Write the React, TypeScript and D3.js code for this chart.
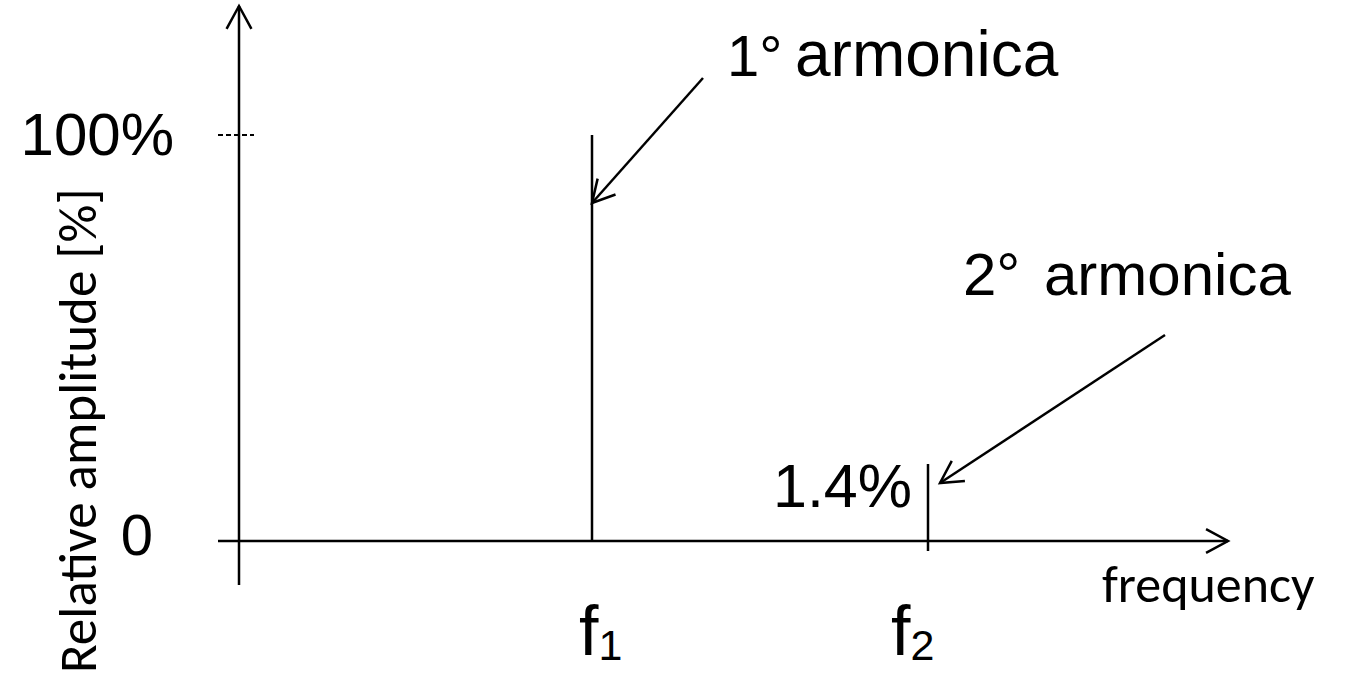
import React from "react";
import * as d3 from "d3";

// ---- data ----
const harmonicOrders = [1, 2];
const harmonicSubs = ["1", "2"];
const amplitudes = [100, 1.4];
const amplitudeLabels = ["", "1.4%"];
const annotationOrdinals = ["1°", "2°"];
const annotationWord = "armonica";
const yTicks = [0, 100];
const yTickLabels = ["0", "100%"];
const xAxisTitle = "frequency";
const yAxisTitle = "Relative amplitude [%]";

const W = 1350;
const H = 677;
const ARIAL = "'Liberation Sans', Arial, sans-serif";
const CAL = "Carlito, Calibri, Lato, 'Open Sans', sans-serif";

// frame
const axisX = 239;
const axisY0 = 541;

function arrowHead(tx: number, ty: number, fx: number, fy: number, len: number, ang: number) {
  const dx = fx - tx, dy = fy - ty;
  const l = Math.hypot(dx, dy);
  const ux = dx / l, uy = dy / l;
  const rot = (a: number) => [ux * Math.cos(a) - uy * Math.sin(a), ux * Math.sin(a) + uy * Math.cos(a)];
  const [ax, ay] = rot(ang);
  const [bx, by] = rot(-ang);
  return `M${tx + ax * len},${ty + ay * len}L${tx},${ty}L${tx + bx * len},${ty + by * len}`;
}

export default function App() {
  const x = d3.scaleLinear().domain([1, 2]).range([592, 928]);
  const y = d3.scaleSymlog().domain([0, 100]).range([axisY0, 135]);

  // annotation layout
  const annStart = [
    [703, 78],
    [1165, 335],
  ];
  const annTip = [
    [x(1), 203],
    [x(2) + 12, 483],
  ];
  const annLayout = [
    { ox: 727, ofs: 58, wx: 795, wfs: 64, by: 76 },
    { ox: 963, ofs: 60, wx: 1044, wfs: 60, by: 295 },
  ];
  const fLabelOffset = [-13, -37];

  const stroke = "#000";
  const sw = 2.5;

  return (
    <svg
      width={W}
      height={H}
      style={{ position: "absolute", left: 0, top: 0, background: "#fff" }}
      viewBox={`0 0 ${W} ${H}`}
    >
      {/* y axis */}
      <line x1={axisX} y1={585} x2={axisX} y2={6} stroke={stroke} strokeWidth={sw} />
      <path d={arrowHead(axisX, 6, axisX, 100, 26, Math.PI / 6.3)} fill="none" stroke={stroke} strokeWidth={sw} />
      {/* x axis */}
      <line x1={218} y1={axisY0} x2={1228} y2={axisY0} stroke={stroke} strokeWidth={sw} />
      <path d={arrowHead(1228, axisY0, 1100, axisY0, 25, Math.PI / 6.3)} fill="none" stroke={stroke} strokeWidth={sw} />

      {/* y ticks */}
      {yTicks.map((t, i) => (
        <g key={"yt" + i}>
          {t > 0 && (
            <line
              x1={218}
              x2={254}
              y1={y(t)}
              y2={y(t)}
              stroke={stroke}
              strokeWidth={2}
              strokeDasharray="5 3"
            />
          )}
          <text
            x={t > 0 ? 174 : 153}
            y={y(t) + (t > 0 ? 20 : 14)}
            textAnchor="end"
            fontFamily={ARIAL}
            fontSize={t > 0 ? 60 : 58}
            fill="#000"
          >
            {yTickLabels[i]}
          </text>
        </g>
      ))}

      {/* spikes */}
      {harmonicOrders.map((h, i) => (
        <g key={"h" + i}>
          <line
            x1={x(h)}
            x2={x(h)}
            y1={y(amplitudes[i])}
            y2={i === 0 ? axisY0 : axisY0 + 10}
            stroke={stroke}
            strokeWidth={sw}
          />
          {amplitudeLabels[i] && (
            <text
              x={x(h) - 16}
              y={507}
              textAnchor="end"
              fontFamily={ARIAL}
              fontSize={61}
              fill="#000"
            >
              {amplitudeLabels[i]}
            </text>
          )}
          <text x={x(h) + fLabelOffset[i]} y={655} fontFamily={ARIAL} fontSize={70} fill="#000">
            f
            <tspan fontSize={43} dy={5}>
              {harmonicSubs[i]}
            </tspan>
          </text>
          {/* annotation */}
          <line
            x1={annStart[i][0]}
            y1={annStart[i][1]}
            x2={annTip[i][0]}
            y2={annTip[i][1]}
            stroke={stroke}
            strokeWidth={sw}
          />
          <path
            d={arrowHead(annTip[i][0], annTip[i][1], annStart[i][0], annStart[i][1], 25, Math.PI / 6.3)}
            fill="none"
            stroke={stroke}
            strokeWidth={sw}
          />
          <text y={annLayout[i].by} fontFamily={ARIAL} fill="#000">
            <tspan x={annLayout[i].ox} fontSize={annLayout[i].ofs}>
              {annotationOrdinals[i]}
            </tspan>
            <tspan x={annLayout[i].wx} fontSize={annLayout[i].wfs}>
              {annotationWord}
            </tspan>
          </text>
        </g>
      ))}

      {/* axis titles */}
      <text x={1102} y={602} fontFamily={CAL} fontSize={52} fill="#000">
        {xAxisTitle}
      </text>
      <text
        transform={`translate(96, 673) rotate(-90)`}
        textAnchor="start"
        fontFamily={CAL}
        fontSize={53}
        fill="#000"
      >
        {yAxisTitle}
      </text>
    </svg>
  );
}
